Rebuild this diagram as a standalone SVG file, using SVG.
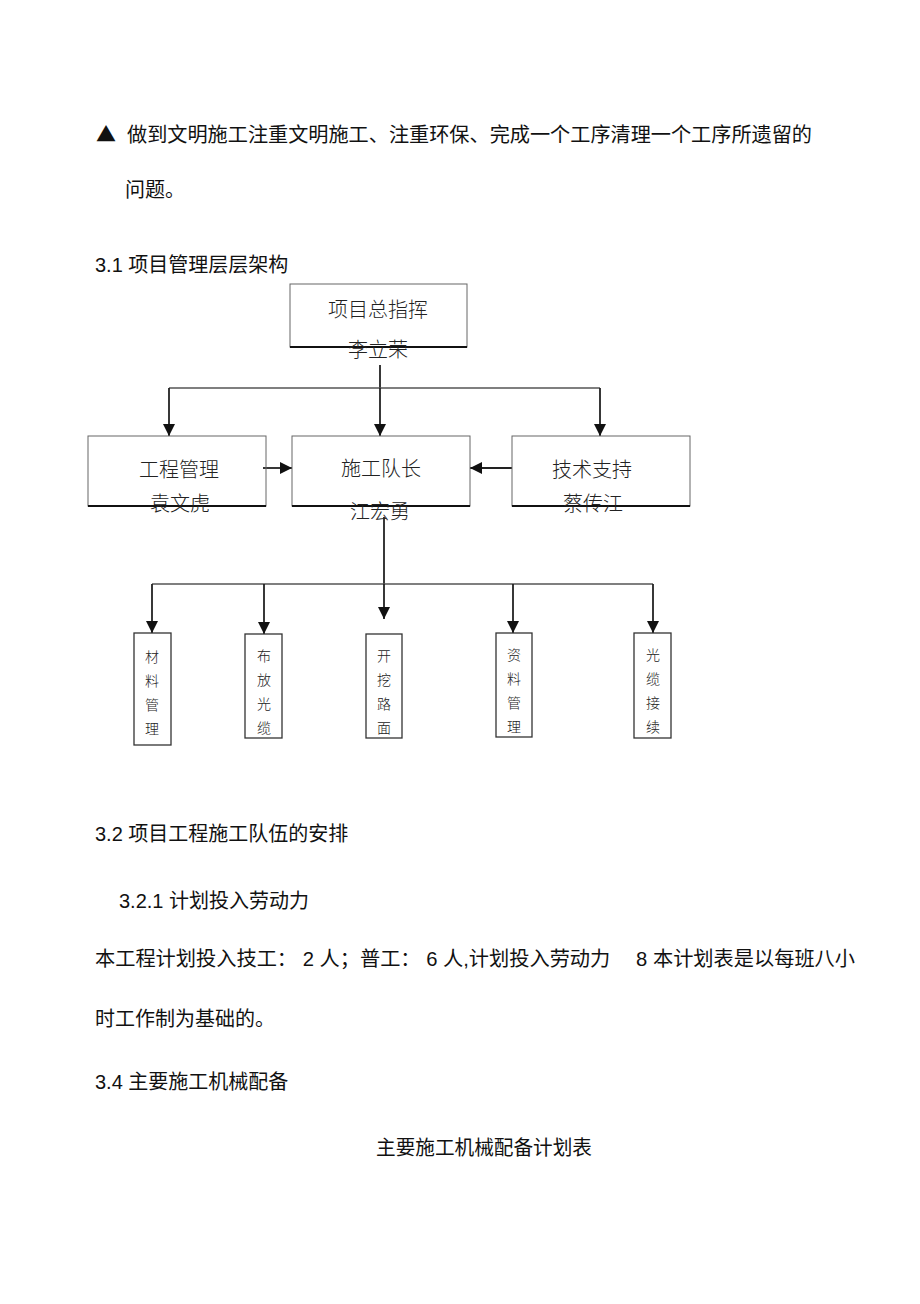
<svg xmlns="http://www.w3.org/2000/svg" width="920" height="1304" viewBox="0 0 920 1304">
<style>
.t{font-family:"Liberation Sans","Noto Sans CJK SC",sans-serif;font-size:20px;fill:#111}
.n{font-family:"Noto Sans CJK SC",sans-serif;font-size:20px;fill:#222;text-anchor:middle;font-weight:300}
.s{font-family:"Noto Sans CJK SC",sans-serif;font-size:14px;fill:#222;text-anchor:middle;font-weight:300}
.box{fill:none;stroke:#666;stroke-width:1}
.bot{stroke:#111;stroke-width:2}
.sb{fill:none;stroke:#333;stroke-width:1.3}
.c{fill:none;stroke:#222;stroke-width:1.8}
.h{fill:none;stroke:#555;stroke-width:1.3}
</style>
<defs>
<marker id="ar" markerUnits="userSpaceOnUse" markerWidth="12" markerHeight="12" viewBox="0 0 10 10" refX="10" refY="5" orient="auto">
<path d="M0,0 L10,5 L0,10 Z" fill="#111"/>
</marker>
</defs>
<rect width="920" height="1304" fill="#fff"/>

<g id="body-text">
<text class="t" x="96" y="142" style="font-family:'Noto Sans CJK SC',sans-serif">▲</text>
<text class="t" x="127" y="142" textLength="685" lengthAdjust="spacingAndGlyphs">做到文明施工注重文明施工、注重环保、完成一个工序清理一个工序所遗留的</text>
<text class="t" x="125" y="197">问题。</text>
<text class="t" x="95" y="272">3.1 项目管理层层架构</text>
<text class="t" x="95" y="841">3.2 项目工程施工队伍的安排</text>
<text class="t" x="119" y="908">3.2.1 计划投入劳动力</text>
<text class="t" x="95" y="966" textLength="760" lengthAdjust="spacingAndGlyphs">本工程计划投入技工： 2 人；普工： 6 人,计划投入劳动力　 8 本计划表是以每班八小</text>
<text class="t" x="95" y="1026">时工作制为基础的。</text>
<text class="t" x="95" y="1089">3.4 主要施工机械配备</text>
<text class="t" x="376" y="1155" textLength="216" lengthAdjust="spacingAndGlyphs">主要施工机械配备计划表</text>
</g>

<g id="connectors">
<path class="c" d="M380,365 V388"/>
<path class="h" d="M169,388 H600"/>
<path class="c" d="M169,388 V436" marker-end="url(#ar)"/>
<path class="c" d="M380,388 V436" marker-end="url(#ar)"/>
<path class="c" d="M600,388 V436" marker-end="url(#ar)"/>
<path class="c" d="M263,468 H292" marker-end="url(#ar)"/>
<path class="c" d="M512,468 H470" marker-end="url(#ar)"/>
<path class="c" d="M384,517 V584"/>
<path class="h" d="M152,584 H653"/>
<path class="c" d="M152,584 V633" marker-end="url(#ar)"/>
<path class="c" d="M264,584 V634" marker-end="url(#ar)"/>
<path class="c" d="M384,584 V619" marker-end="url(#ar)"/>
<path class="c" d="M513,584 V633" marker-end="url(#ar)"/>
<path class="c" d="M653,584 V633" marker-end="url(#ar)"/>
</g>

<g id="node-commander">
<rect class="box" x="290" y="284" width="177" height="63"/>
<line class="bot" x1="290" y1="347" x2="467" y2="347"/>
<text class="n" x="378" y="317">项目总指挥</text>
<text class="n" x="378" y="357">李立荣</text>
</g>

<g id="node-engineering">
<rect class="box" x="88" y="436" width="178" height="70"/>
<line class="bot" x1="88" y1="506" x2="266" y2="506"/>
<text class="n" x="179" y="477">工程管理</text>
<text class="n" x="180" y="511">袁文虎</text>
</g>

<g id="node-captain">
<rect class="box" x="292" y="436" width="178" height="70"/>
<line class="bot" x1="292" y1="506" x2="470" y2="506"/>
<text class="n" x="381" y="476">施工队长</text>
<text class="n" x="380" y="519">江宏勇</text>
</g>

<g id="node-tech">
<rect class="box" x="512" y="436" width="178" height="70"/>
<line class="bot" x1="512" y1="506" x2="690" y2="506"/>
<text class="n" x="592" y="477">技术支持</text>
<text class="n" x="593" y="511">蔡传江</text>
</g>

<g id="node-material">
<rect class="sb" x="134" y="633" width="37" height="112"/>
<text class="s" x="152" y="662">材</text>
<text class="s" x="152" y="686">料</text>
<text class="s" x="152" y="710">管</text>
<text class="s" x="152" y="734">理</text>
</g>

<g id="node-cable-laying">
<rect class="sb" x="245" y="634" width="37" height="104"/>
<text class="s" x="264" y="661">布</text>
<text class="s" x="264" y="685">放</text>
<text class="s" x="264" y="709">光</text>
<text class="s" x="264" y="733">缆</text>
</g>

<g id="node-road">
<rect class="sb" x="366" y="634" width="36" height="104"/>
<text class="s" x="384" y="661">开</text>
<text class="s" x="384" y="685">挖</text>
<text class="s" x="384" y="709">路</text>
<text class="s" x="384" y="733">面</text>
</g>

<g id="node-documents">
<rect class="sb" x="496" y="633" width="36" height="104"/>
<text class="s" x="514" y="660">资</text>
<text class="s" x="514" y="684">料</text>
<text class="s" x="514" y="708">管</text>
<text class="s" x="514" y="732">理</text>
</g>

<g id="node-splicing">
<rect class="sb" x="634" y="633" width="37" height="105"/>
<text class="s" x="653" y="660">光</text>
<text class="s" x="653" y="684">缆</text>
<text class="s" x="653" y="708">接</text>
<text class="s" x="653" y="732">续</text>
</g>
</svg>
